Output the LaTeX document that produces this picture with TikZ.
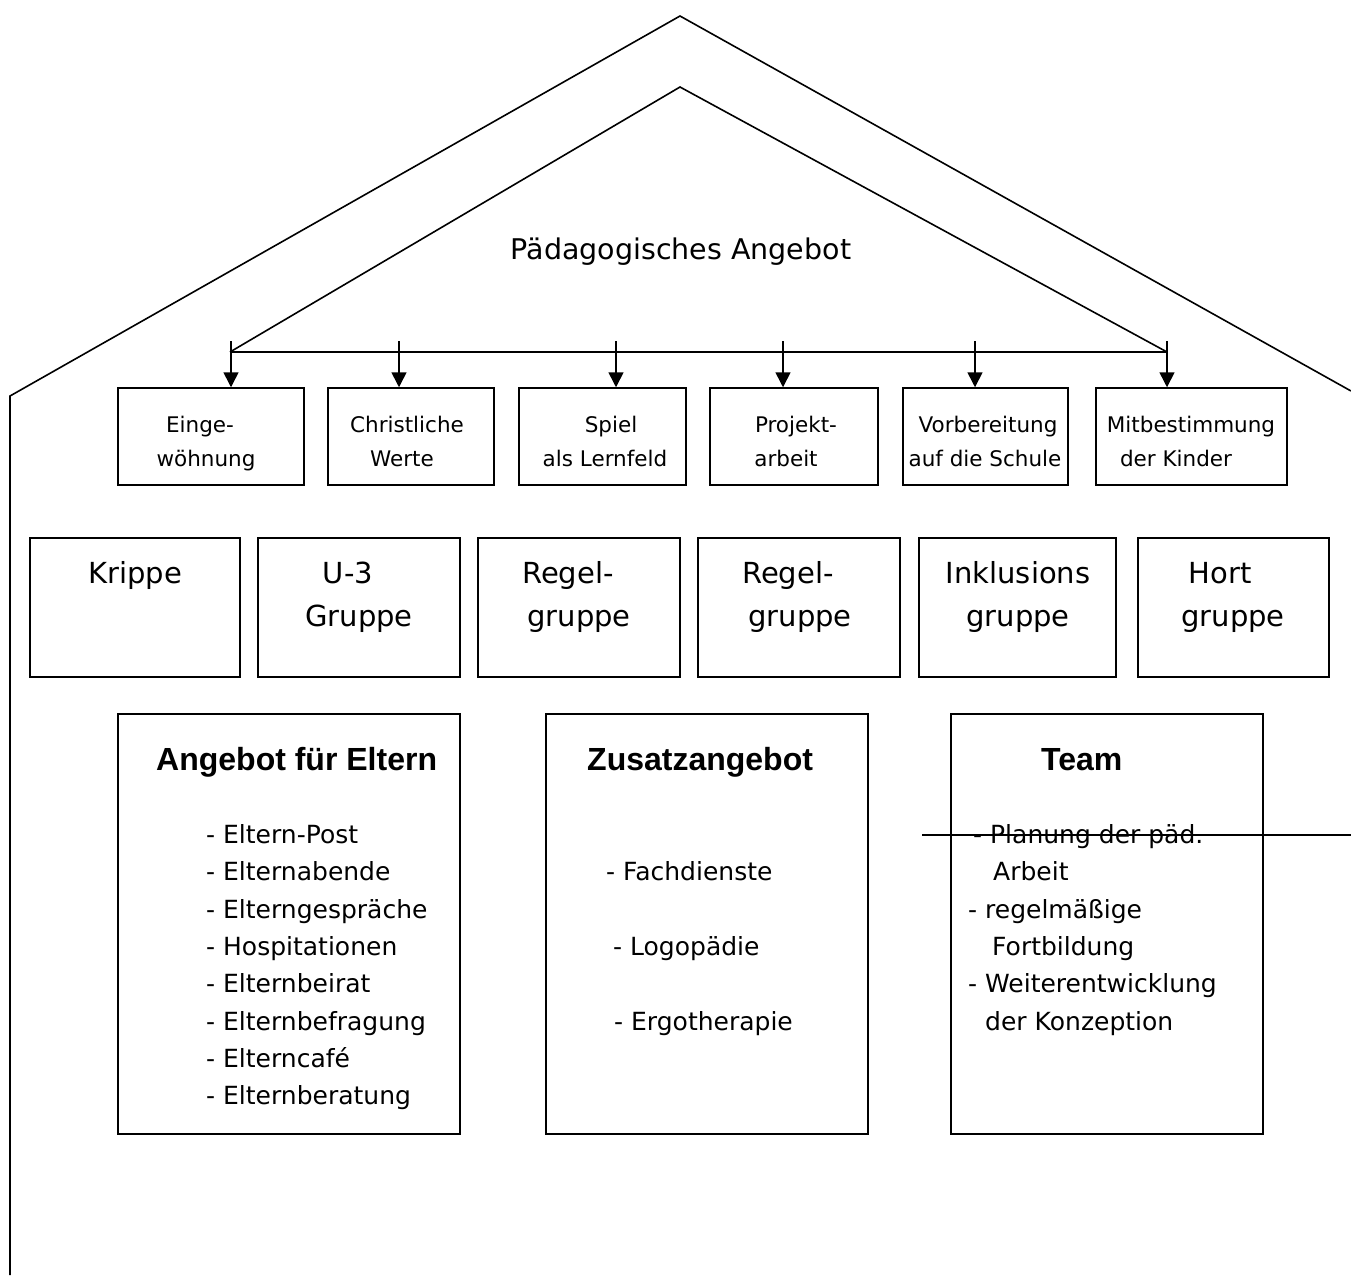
\documentclass[tikz,border=0pt]{standalone}
\usepackage{fontspec}
\setmainfont{DejaVu Sans}
\newfontfamily\headfont{Liberation Sans}
\usetikzlibrary{arrows.meta}
\begin{document}
\begin{tikzpicture}[x=1pt,y=-1pt,
  ln/.style={line width=1.6pt, line join=miter},
  box/.style={draw, line width=1.5pt, inner sep=0pt, minimum height=97pt},
  gbox/.style={draw, line width=1.5pt, inner sep=0pt, minimum height=139pt},
  bbox/.style={draw, line width=1.5pt, inner sep=0pt, minimum height=420pt},
  stxt/.style={anchor=base, inner sep=0pt, font=\fontsize{21.5}{25}\selectfont},
  gtxt/.style={anchor=base, inner sep=0pt, font=\fontsize{29}{34}\selectfont},
  htxt/.style={anchor=base west, inner sep=0pt, font=\headfont\bfseries\fontsize{32}{36}\selectfont},
  btxt/.style={anchor=base west, inner sep=0pt, font=\fontsize{25}{29}\selectfont},
  arr/.style={line width=1.6pt, -{Triangle[width=15pt,length=15pt]}}
]
\useasboundingbox (0,0) rectangle (1351,1283);
\fill[white] (0,0) rectangle (1351,1283);

% roof outline
\coordinate (oapex) at (680,16);
\coordinate (oleave) at (10,396);
\coordinate (olbot) at (10,1275);
\coordinate (oreave) at (1351,391);
\draw[ln] (olbot) -- (oleave) -- (oapex) -- (oreave);

\coordinate (iapex) at (680,87);
\coordinate (il) at (230,352);
\coordinate (ir) at (1167,352);
\draw[ln] (il) -- (iapex) -- (ir);
\draw[ln] (il) -- (ir);

% title
\node[anchor=base, inner sep=0pt, font=\fontsize{28.5}{33}\selectfont] (title) at (681,259) {Pädagogisches Angebot};

% small boxes
\node[box, minimum width=186pt] (b1) at (211,436.5) {};
\node[box, minimum width=166pt] (b2) at (411,436.5) {};
\node[box, minimum width=167pt] (b3) at (602.5,436.5) {};
\node[box, minimum width=168pt] (b4) at (794,436.5) {};
\node[box, minimum width=165pt] (b5) at (985.5,436.5) {};
\node[box, minimum width=191pt] (b6) at (1191.5,436.5) {};

\node[stxt] (t1a) at (200,432) {Einge-};
\node[stxt] (t1b) at (206,466) {wöhnung};
\node[stxt] (t2a) at (407,432) {Christliche};
\node[stxt] (t2b) at (402,466) {Werte};
\node[stxt] (t3a) at (611,432) {Spiel};
\node[stxt] (t3b) at (605,466) {als Lernfeld};
\node[stxt] (t4a) at (796,432) {Projekt-};
\node[stxt] (t4b) at (786,466) {arbeit};
\node[stxt] (t5a) at (988,432) {Vorbereitung};
\node[stxt] (t5b) at (985,466) {auf die Schule};
\node[stxt] (t6a) at (1191,432) {Mitbestimmung};
\node[stxt] (t6b) at (1176,466) {der Kinder};

% arrows
\coordinate (s1) at (231,341);
\coordinate (s2) at (399,341);
\coordinate (s3) at (616,341);
\coordinate (s4) at (783,341);
\coordinate (s5) at (975,341);
\coordinate (s6) at (1167,341);
\draw[arr] (s1) -- (s1 |- b1.north);
\draw[arr] (s2) -- (s2 |- b2.north);
\draw[arr] (s3) -- (s3 |- b3.north);
\draw[arr] (s4) -- (s4 |- b4.north);
\draw[arr] (s5) -- (s5 |- b5.north);
\draw[arr] (s6) -- (s6 |- b6.north);

% group boxes
\node[gbox, minimum width=210pt] (g1) at (135,607.5) {};
\node[gbox, minimum width=202pt] (g2) at (359,607.5) {};
\node[gbox, minimum width=202pt] (g3) at (579,607.5) {};
\node[gbox, minimum width=202pt] (g4) at (799,607.5) {};
\node[gbox, minimum width=197pt] (g5) at (1017.5,607.5) {};
\node[gbox, minimum width=191pt] (g6) at (1233.5,607.5) {};

\node[gtxt] (k1) at (135,583) {Krippe};
\node[gtxt] (k2a) at (348,583) {U-3};
\node[gtxt] (k2b) at (359,626) {Gruppe};
\node[gtxt] (k3a) at (568,583) {Regel-};
\node[gtxt] (k3b) at (579,626) {gruppe};
\node[gtxt] (k4a) at (788,583) {Regel-};
\node[gtxt] (k4b) at (800,626) {gruppe};
\node[gtxt] (k5a) at (1018,583) {Inklusions};
\node[gtxt] (k5b) at (1018,626) {gruppe};
\node[gtxt] (k6a) at (1220,583) {Hort};
\node[gtxt] (k6b) at (1233,626) {gruppe};

% bottom boxes
\node[bbox, minimum width=342pt] (eb) at (289,924) {};
\node[bbox, minimum width=322pt] (zb) at (707,924) {};
\node[bbox, minimum width=312pt] (tb) at (1107,924) {};

\node[htxt] (eh) at (156,770) {Angebot für Eltern};
\node[htxt] (zh) at (587,770) {Zusatzangebot};
\node[htxt] (th) at (1041,770) {Team};

\node[btxt] (e1) at (206,843) {- Eltern-Post};
\node[btxt] (e2) at (206,880) {- Elternabende};
\node[btxt] (e3) at (206,918) {- Elterngespräche};
\node[btxt] (e4) at (206,955) {- Hospitationen};
\node[btxt] (e5) at (206,992) {- Elternbeirat};
\node[btxt] (e6) at (206,1030) {- Elternbefragung};
\node[btxt] (e7) at (206,1067) {- Elterncafé};
\node[btxt] (e8) at (206,1104) {- Elternberatung};

\node[btxt] (z1) at (606,880) {- Fachdienste};
\node[btxt] (z2) at (613,955) {- Logopädie};
\node[btxt] (z3) at (614,1030) {- Ergotherapie};

\node[btxt] (m1) at (973,843) {- Planung der päd.};
\node[btxt] (m2) at (993,880) {Arbeit};
\node[btxt] (m3) at (968,918) {- regelmäßige};
\node[btxt] (m4) at (992,955) {Fortbildung};
\node[btxt] (m5) at (968,992) {- Weiterentwicklung};
\node[btxt] (m6) at (985,1030) {der Konzeption};

% stray line through Team box
\coordinate (ls) at (922,835);
\coordinate (le) at (1351,835);
\draw[line width=1.5pt] (ls) -- (le);
\end{tikzpicture}
\end{document}
